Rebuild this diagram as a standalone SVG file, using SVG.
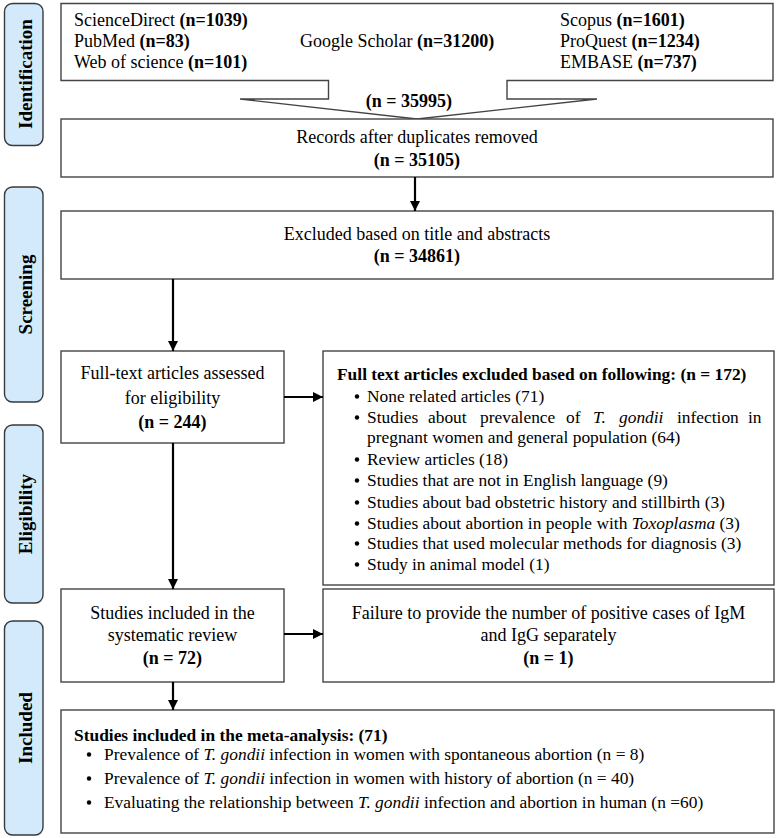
<svg xmlns="http://www.w3.org/2000/svg" width="777" height="838" viewBox="0 0 777 838">
<defs>
<marker id="ah" viewBox="0 0 10 10" refX="10" refY="5" markerWidth="11" markerHeight="10" markerUnits="userSpaceOnUse" orient="auto">
<path d="M0,0 L10,5 L0,10 Z" fill="#000"/>
</marker>
</defs>
<style>
text{font-family:"Liberation Serif","Times New Roman",serif;fill:#000;font-size:18px}
.b{font-weight:bold}
.i{font-style:italic}
.m{text-anchor:middle}
.s{font-size:17.4px}
.bu{fill:#000}
.box{fill:#fff;stroke:#444;stroke-width:1.4}
.lab{fill:#d2eafb;stroke:#3a3a3a;stroke-width:1.4}
.lt{font-weight:bold;font-size:19px;text-anchor:middle}
.ar{stroke:#000;stroke-width:2.2;fill:none;marker-end:url(#ah)}
</style>
<rect width="777" height="838" fill="#fff"/>

<g id="label-identification"><rect class="lab" x="4.5" y="3.5" width="38.5" height="142" rx="8"/><text class="lt" transform="translate(32,74) rotate(-90)">Identification</text></g>
<g id="label-screening"><rect class="lab" x="4.5" y="187" width="38.5" height="215" rx="8"/><text class="lt" transform="translate(32,294.5) rotate(-90)">Screening</text></g>
<g id="label-eligibility"><rect class="lab" x="4.5" y="425" width="38.5" height="178" rx="8"/><text class="lt" transform="translate(32,514) rotate(-90)">Eligibility</text></g>
<g id="label-included"><rect class="lab" x="4.5" y="621" width="38.5" height="214" rx="8"/><text class="lt" transform="translate(32,728) rotate(-90)">Included</text></g>

<g id="sources">
<path class="box" d="M61,3.5 L773,3.5 L773,80.5 L507,80.5 L507,99 L597,99 L417,119 L240,99 L328.5,99 L328.5,80.5 L61,80.5 Z"/>
<text x="74" y="26">ScienceDirect <tspan class="b">(n=1039)</tspan></text>
<text x="74" y="47">PubMed <tspan class="b">(n=83)</tspan></text>
<text x="74" y="68">Web of science <tspan class="b">(n=101)</tspan></text>
<text x="300" y="47">Google  Scholar <tspan class="b">(n=31200)</tspan></text>
<text x="560" y="26">Scopus <tspan class="b">(n=1601)</tspan></text>
<text x="560" y="47">ProQuest <tspan class="b">(n=1234)</tspan></text>
<text x="560" y="68">EMBASE <tspan class="b">(n=737)</tspan></text>
<text class="b m" x="409" y="107">(n = 35995)</text>
</g>

<g id="records">
<rect class="box" x="61" y="119" width="712" height="58"/>
<text class="m" x="417" y="143">Records after duplicates removed</text>
<text class="m b" x="417" y="166">(n = 35105)</text>
</g>

<g id="excluded-title">
<rect class="box" x="61" y="211" width="712" height="68"/>
<text class="m" x="417" y="240">Excluded based on title and abstracts</text>
<text class="m b" x="417" y="262">(n = 34861)</text>
</g>

<g id="fulltext">
<rect class="box" x="61" y="351" width="223" height="92"/>
<text class="m" x="172.5" y="379">Full-text articles assessed</text>
<text class="m" x="172.5" y="404">for eligibility</text>
<text class="m b" x="172.5" y="428">(n = 244)</text>
</g>

<g id="fulltext-excluded">
<rect class="box" x="323" y="351" width="451" height="234"/>
<text class="b s" x="337" y="380">Full text articles excluded based on following: (n = 172)</text>
<circle class="bu" cx="357" cy="396.5" r="2.2"/>
<circle class="bu" cx="357" cy="417.5" r="2.2"/>
<circle class="bu" cx="357" cy="459.5" r="2.2"/>
<circle class="bu" cx="357" cy="480.5" r="2.2"/>
<circle class="bu" cx="357" cy="502.5" r="2.2"/>
<circle class="bu" cx="357" cy="523.5" r="2.2"/>
<circle class="bu" cx="357" cy="543.5" r="2.2"/>
<circle class="bu" cx="357" cy="564.5" r="2.2"/>
<text class="s" x="367" y="402">None related articles (71)</text>
<text class="s" y="423"><tspan x="367">Studies</tspan><tspan x="428">about</tspan><tspan x="480">prevalence</tspan><tspan x="566">of</tspan><tspan x="593" class="i">T.</tspan><tspan x="619" class="i">gondii</tspan><tspan x="677">infection</tspan><tspan x="748">in</tspan></text>
<text class="s" x="367" y="443">pregnant women and general population (64)</text>
<text class="s" x="367" y="465">Review articles (18)</text>
<text class="s" x="367" y="486">Studies that are not in English language (9)</text>
<text class="s" x="367" y="508">Studies about bad obstetric history and stillbirth (3)</text>
<text class="s" x="367" y="529">Studies about abortion in people with <tspan class="i">Toxoplasma</tspan> (3)</text>
<text class="s" x="367" y="549">Studies that used molecular methods for diagnosis (3)</text>
<text class="s" x="367" y="570">Study in animal model (1)</text>
</g>

<g id="systematic">
<rect class="box" x="61" y="589" width="223" height="93"/>
<text class="m" x="172.5" y="619">Studies included in the</text>
<text class="m" x="172.5" y="641">systematic review</text>
<text class="m b" x="172.5" y="664">(n = 72)</text>
</g>

<g id="failure">
<rect class="box" x="323" y="589" width="451" height="93"/>
<text class="m" x="548.5" y="619">Failure to provide the number of positive cases of IgM</text>
<text class="m" x="548.5" y="641">and IgG separately</text>
<text class="m b" x="548.5" y="664">(n = 1)</text>
</g>

<g id="meta">
<rect class="box" x="61" y="710" width="713" height="123"/>
<text class="b s" x="74" y="741">Studies included in the meta-analysis: (71)</text>
<circle class="bu" cx="89" cy="754.5" r="2.2"/>
<circle class="bu" cx="89" cy="778.5" r="2.2"/>
<circle class="bu" cx="89" cy="802.5" r="2.2"/>
<text class="s" x="104" y="760">Prevalence of <tspan class="i">T. gondii</tspan> infection in women with spontaneous abortion (n = 8)</text>
<text class="s" x="104" y="784">Prevalence of <tspan class="i">T. gondii</tspan> infection in women with history of abortion (n = 40)</text>
<text class="s" x="104" y="808">Evaluating the relationship between <tspan class="i">T. gondii</tspan> infection and abortion in human (n =60)</text>
</g>

<g id="connectors">
<line class="ar" x1="415" y1="177" x2="415" y2="211"/>
<line class="ar" x1="173" y1="279" x2="173" y2="351"/>
<line class="ar" x1="284" y1="397" x2="323" y2="397"/>
<line class="ar" x1="173" y1="443" x2="173" y2="589"/>
<line class="ar" x1="284" y1="634" x2="323" y2="634"/>
<line class="ar" x1="173" y1="682" x2="173" y2="710"/>
</g>
</svg>
